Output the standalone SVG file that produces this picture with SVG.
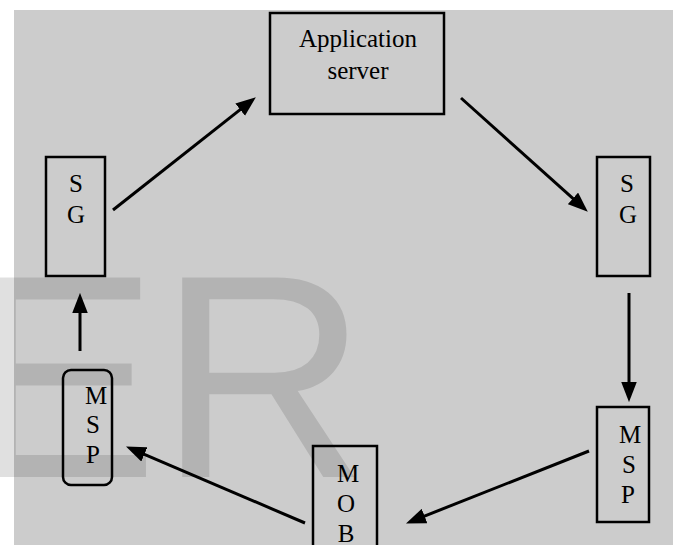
<svg xmlns="http://www.w3.org/2000/svg" width="676" height="545" viewBox="0 0 676 545">
<style>
.box{fill:none;stroke:#000;stroke-width:2.5}
.t{font-family:"Liberation Serif","Times New Roman",serif;font-size:25px;fill:#000;text-anchor:middle}
.c{stroke:#000;stroke-width:3;fill:none;marker-end:url(#ah)}
</style>
<defs>
<marker id="ah" markerUnits="userSpaceOnUse" markerWidth="20" markerHeight="16" refX="8" refY="7" orient="auto" viewBox="0 0 18 14">
<path d="M0,0 L18,7 L0,14 z" fill="#000"/>
</marker>
</defs>
<rect x="0" y="0" width="676" height="545" fill="#fff"/>
<rect x="14" y="10" width="659" height="535" fill="#cccccc"/>
<g id="app">
<rect class="box" x="270" y="13" width="174" height="101" stroke-width="3"/>
<text class="t" x="358" y="47" font-size="26">Application</text>
<text class="t" x="358" y="79" font-size="26">server</text>
</g>
<g id="sg-left">
<rect class="box" x="46" y="157" width="59" height="119"/>
<text class="t" x="76" y="192">S</text>
<text class="t" x="76" y="223">G</text>
</g>
<g id="sg-right">
<rect class="box" x="597" y="157" width="53" height="119"/>
<text class="t" x="627" y="192">S</text>
<text class="t" x="628" y="223">G</text>
</g>
<g id="msp-right">
<rect class="box" x="597" y="407" width="52" height="115"/>
<text class="t" x="630" y="443">M</text>
<text class="t" x="629" y="473">S</text>
<text class="t" x="628" y="503">P</text>
</g>
<g id="mob">
<rect class="box" x="313" y="446" width="64" height="110"/>
<text class="t" x="348" y="482">M</text>
<text class="t" x="346" y="512">O</text>
<text class="t" x="346" y="542">B</text>
</g>
<g id="msp-left">
<rect class="box" x="63" y="370" width="49" height="115" rx="8" ry="8" stroke-width="2"/>
<text class="t" x="96" y="404">M</text>
<text class="t" x="93" y="433">S</text>
<text class="t" x="93" y="463">P</text>
</g>
<g id="connectors">
<line class="c" x1="113" y1="210" x2="247.15" y2="104.19"/>
<line class="c" x1="461" y1="98" x2="579.55" y2="204.32"/>
<line class="c" x1="629" y1="293" x2="629" y2="391"/>
<line class="c" x1="589" y1="451" x2="416.3" y2="519.32"/>
<line class="c" x1="305" y1="523" x2="136.2" y2="450.93"/>
<line class="c" x1="80" y1="351" x2="80" y2="304"/>
</g>
<text x="-35" y="477" font-family="'Liberation Sans',Arial,sans-serif" font-size="290" fill="#000" fill-opacity="0.12">ER</text>
</svg>
